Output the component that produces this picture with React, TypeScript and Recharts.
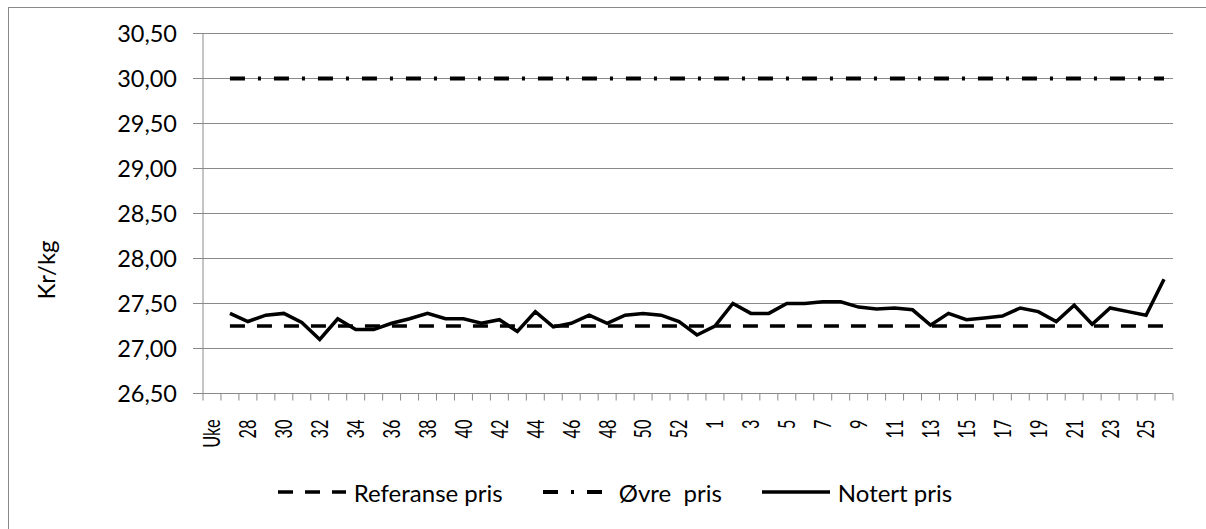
import { LineChart, Line, XAxis, YAxis, CartesianGrid, Legend } from "recharts"

// week numbers, first slot is the axis caption "Uke"
const weeks = [
  "Uke",
  "27", "28", "29", "30", "31", "32", "33", "34", "35", "36", "37", "38", "39", "40",
  "41", "42", "43", "44", "45", "46", "47", "48", "49", "50", "51", "52", "53",
  "1", "2", "3", "4", "5", "6", "7", "8", "9", "10", "11", "12", "13",
  "14", "15", "16", "17", "18", "19", "20", "21", "22", "23", "24", "25", "26",
]

const referansePris = [
  null,
  27.25, 27.25, 27.25, 27.25, 27.25, 27.25, 27.25, 27.25, 27.25, 27.25, 27.25, 27.25, 27.25, 27.25,
  27.25, 27.25, 27.25, 27.25, 27.25, 27.25, 27.25, 27.25, 27.25, 27.25, 27.25, 27.25, 27.25,
  27.25, 27.25, 27.25, 27.25, 27.25, 27.25, 27.25, 27.25, 27.25, 27.25, 27.25, 27.25, 27.25,
  27.25, 27.25, 27.25, 27.25, 27.25, 27.25, 27.25, 27.25, 27.25, 27.25, 27.25, 27.25, 27.25,
]

const ovrePris = [
  null,
  30, 30, 30, 30, 30, 30, 30, 30, 30, 30, 30, 30, 30, 30,
  30, 30, 30, 30, 30, 30, 30, 30, 30, 30, 30, 30, 30,
  30, 30, 30, 30, 30, 30, 30, 30, 30, 30, 30, 30, 30,
  30, 30, 30, 30, 30, 30, 30, 30, 30, 30, 30, 30, 30,
]

const notertPris = [
  null,
  27.39, 27.30, 27.37, 27.39, 27.29, 27.10, 27.33, 27.21, 27.21, 27.28, 27.33, 27.39, 27.33, 27.33,
  27.28, 27.32, 27.19, 27.41, 27.24, 27.28, 27.37, 27.28, 27.37, 27.39, 27.37, 27.30, 27.15,
  27.25, 27.50, 27.39, 27.39, 27.50, 27.50, 27.52, 27.52, 27.46, 27.44, 27.45, 27.43, 27.26,
  27.39, 27.32, 27.34, 27.36, 27.45, 27.41, 27.30, 27.48, 27.27, 27.45, 27.41, 27.37, 27.77,
]

const yTicks = [26.5, 27, 27.5, 28, 28.5, 29, 29.5, 30, 30.5]

const data = weeks.map((uke, i) => ({
  uke,
  ref: referansePris[i],
  ovre: ovrePris[i],
  notert: notertPris[i],
}))

const FONT = "Lato, 'Open Sans', sans-serif"
const GRID = "#898989"
const W = 1196
const H = 520
const Y_AXIS_W = 194
const RIGHT = 32
const PLOT_W = W - Y_AXIS_W - RIGHT
const HALF_BAND = PLOT_W / weeks.length / 2

const REF_DASH = "15 12"
const OVRE_DASH = "15 13 3 13"

// Excel style: tick marks between categories, every second label rotated
const XTick = (props: any) => {
  const { x, y, payload, index } = props
  const last = index === weeks.length - 1
  return (
    <g>
      <line x1={x - HALF_BAND} x2={x - HALF_BAND} y1={y} y2={y + 7} stroke={GRID} />
      {last && <line x1={x + HALF_BAND} x2={x + HALF_BAND} y1={y} y2={y + 7} stroke={GRID} />}
      {index % 2 === 0 && (
        <text
          transform={`translate(${x},${y + 26}) rotate(-90) scale(0.68,1)`}
          textAnchor="end"
          dy="0.35em"
          fontFamily={FONT}
          fontSize={24}
          fill="#000"
        >
          {payload.value}
        </text>
      )}
    </g>
  )
}

const legendItems = [
  { name: "Referanse pris", dash: REF_DASH, width: 3.5 },
  { name: "Øvre  pris", dash: OVRE_DASH, width: 4 },
  { name: "Notert pris", dash: undefined, width: 3.5 },
]

const LegendContent = () => (
  <div
    style={{
      display: "flex",
      justifyContent: "center",
      alignItems: "center",
      height: 40,
      paddingLeft: 16,
      fontFamily: FONT,
      fontSize: 24,
      color: "#000",
    }}
  >
    {legendItems.map((it, i) => (
      <div key={it.name} style={{ display: "flex", alignItems: "center", marginRight: i < 2 ? 40 : 0 }}>
        <svg width={68} height={10} style={{ marginRight: 8 }}>
          <line x1={0} x2={68} y1={5} y2={5} stroke="#000" strokeWidth={it.width} strokeDasharray={it.dash} />
        </svg>
        <span style={{ whiteSpace: "pre" }}>{it.name}</span>
      </div>
    ))}
  </div>
)

export default function App() {
  return (
    <>
      <style>{"html,body{margin:0;overflow:hidden;background:#fff}"}</style>
      <div
        style={{
          position: "absolute",
          left: 8,
          top: 7,
          width: W + 2,
          height: H + 2,
          border: `1px solid ${GRID}`,
          overflow: "hidden",
          background: "#fff",
        }}
      >
        <LineChart
          width={W}
          height={H}
          data={data}
          margin={{ top: 25.5, right: RIGHT, left: 0, bottom: 16 }}
        >
          <CartesianGrid vertical={false} stroke={GRID} />
          <XAxis
            dataKey="uke"
            scale="point"
            padding={{ left: HALF_BAND, right: HALF_BAND }}
            interval={0}
            tickLine={false}
            tickSize={0}
            tickMargin={0}
            height={78.5}
            axisLine={{ stroke: GRID }}
            tick={<XTick />}
          />
          <YAxis
            width={Y_AXIS_W}
            domain={[26.5, 30.5]}
            ticks={yTicks}
            interval={0}
            tickSize={10}
            tickMargin={16}
            tickLine={{ stroke: GRID }}
            axisLine={{ stroke: GRID }}
            tickFormatter={(v: number) => v.toFixed(2).replace(".", ",")}
            tick={{ fontFamily: FONT, fontSize: 23.5, fill: "#000" }}
            label={{
              content: () => (
                <text
                  x={38}
                  y={262}
                  transform="rotate(-90 38 262)"
                  textAnchor="middle"
                  dy="0.35em"
                  fontFamily={FONT}
                  fontSize={24}
                  fill="#000"
                >
                  Kr/kg
                </text>
              ),
            }}
          />
          <Legend verticalAlign="bottom" height={40} wrapperStyle={{ left: 0, width: W }} content={<LegendContent />} />
          <Line
            dataKey="ref"
            name="Referanse pris"
            stroke="#000"
            strokeWidth={3.5}
            strokeDasharray={REF_DASH}
            dot={false}
            isAnimationActive={false}
          />
          <Line
            dataKey="ovre"
            name="Øvre  pris"
            stroke="#000"
            strokeWidth={4}
            strokeDasharray={OVRE_DASH}
            dot={false}
            isAnimationActive={false}
          />
          <Line
            dataKey="notert"
            name="Notert pris"
            stroke="#000"
            strokeWidth={3.5}
            dot={false}
            isAnimationActive={false}
          />
        </LineChart>
      </div>
    </>
  )
}
